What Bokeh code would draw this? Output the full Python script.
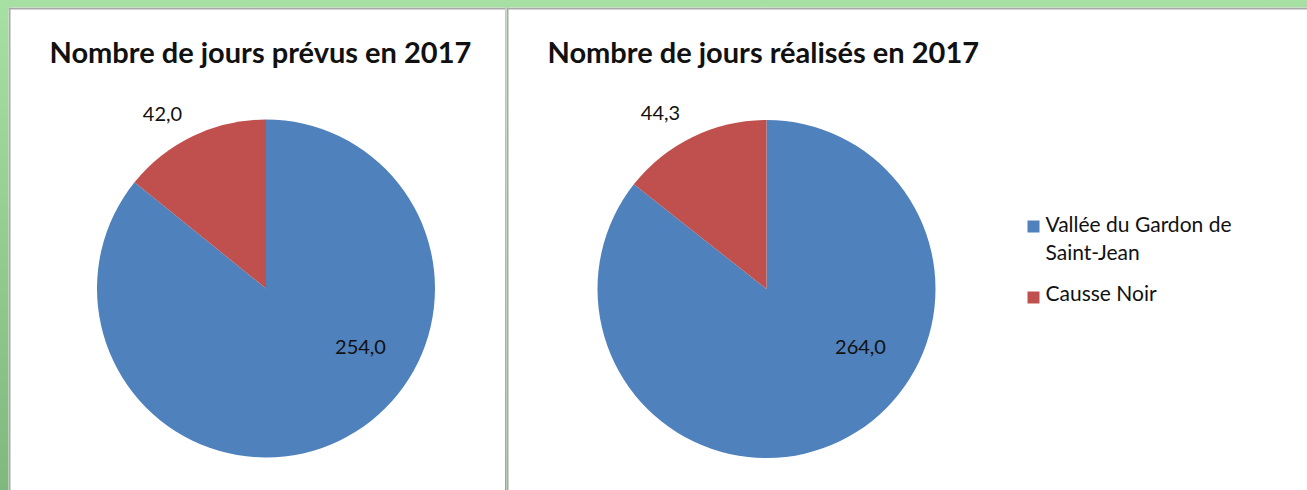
import numpy as np
from bokeh.plotting import figure
from bokeh.layouts import row
from bokeh.models import Range1d, Span, Label, ColumnDataSource
from bokeh.core.properties import value
from bokeh.embed import file_html
from bokeh.resources import INLINE

# ---- data ----
categories = ["Vallée du Gardon de Saint-Jean", "Causse Noir"]
jours_prevus = [254.0, 42.0]
jours_realises = [264.0, 44.3]
titles = ["Nombre de jours prévus en 2017", "Nombre de jours réalisés en 2017"]
legend_lines = [["Vallée du Gardon de", "Saint-Jean"], ["Causse Noir"]]
colors = ["#4f81bd", "#c0504d"]

FONT = "Lato"
H = 483


def fmt(v):
    return f"{v:.1f}".replace(".", ",")


def make_pie(width, title, values, cx, cy, r, label_offsets):
    p = figure(width=width, height=H, x_range=Range1d(0, width), y_range=Range1d(0, H),
               x_axis_type=None, y_axis_type=None, toolbar_location=None,
               output_backend="svg", min_border=0, outline_line_color=None,
               background_fill_color="white", border_fill_color="white")
    total = float(sum(values))
    cum = np.cumsum([0.0] + list(values)) / total
    start = np.pi / 2 - 2 * np.pi * cum[1:]
    end = np.pi / 2 - 2 * np.pi * cum[:-1]
    src = ColumnDataSource(dict(start=start, end=end, color=colors,
                                cat=categories, val=list(values)))
    p.wedge(x=cx, y=cy, radius=r, start_angle="start", end_angle="end",
            fill_color="color", line_color=None, source=src)
    for v, (dx, dy) in zip(values, label_offsets):
        p.add_layout(Label(x=cx + dx, y=cy - dy, text=fmt(v), text_font=FONT,
                           text_font_size="20px", text_color="#111111",
                           text_align="center", text_baseline="middle"))
    p.add_layout(Label(x=41, y=439, text=title, text_font=FONT,
                       text_font_style="bold", text_font_size="29px",
                       text_color="#111111", text_baseline="alphabetic"))
    p.add_layout(Span(location=1, dimension="height", line_color="#a9a9a9", line_width=2))
    p.add_layout(Span(location=H - 1, dimension="width", line_color="#a9a9a9", line_width=2))
    return p


p1 = make_pie(497, titles[0], jours_prevus, 257.5, 202, 169, [(94.5, 58), (-103.5, -175)])
p2 = make_pie(801, titles[1], jours_realises, 260, 201.5, 169, [(94, 57.5), (-106, -176)])

# legend (drawn from categories / colors)
leg_src = ColumnDataSource(dict(x=[527, 527], y=[264, 193], color=colors, cat=categories))
p2.scatter(x="x", y="y", marker="square", size=12, fill_color="color", line_color=None,
           source=leg_src)
text_x, text_y, texts = [], [], []
ys = [[267, 239], [198]]
for lines, yl in zip(legend_lines, ys):
    for t, yy in zip(lines, yl):
        texts.append(t)
        text_x.append(539)
        text_y.append(yy)
p2.text(x=text_x, y=text_y, text=texts, text_font=value(FONT), text_font_size="21px",
        text_color="#111111", text_baseline="alphabetic", text_align="left")

layout = row(p1, p2, spacing=1)

html = file_html(layout, INLINE)
head_end = html.find("</head>")
body_idx = html.find("<body", head_end if head_end >= 0 else 0)
style = (' style="padding:7px 0 0 8px !important;margin:0;overflow:hidden;'
         'background:linear-gradient(#a6e0a3,#7fb97f);"')
if body_idx >= 0:
    html = html[:body_idx + 5] + style + html[body_idx + 5:]
open("out.html", "w").write(html)
